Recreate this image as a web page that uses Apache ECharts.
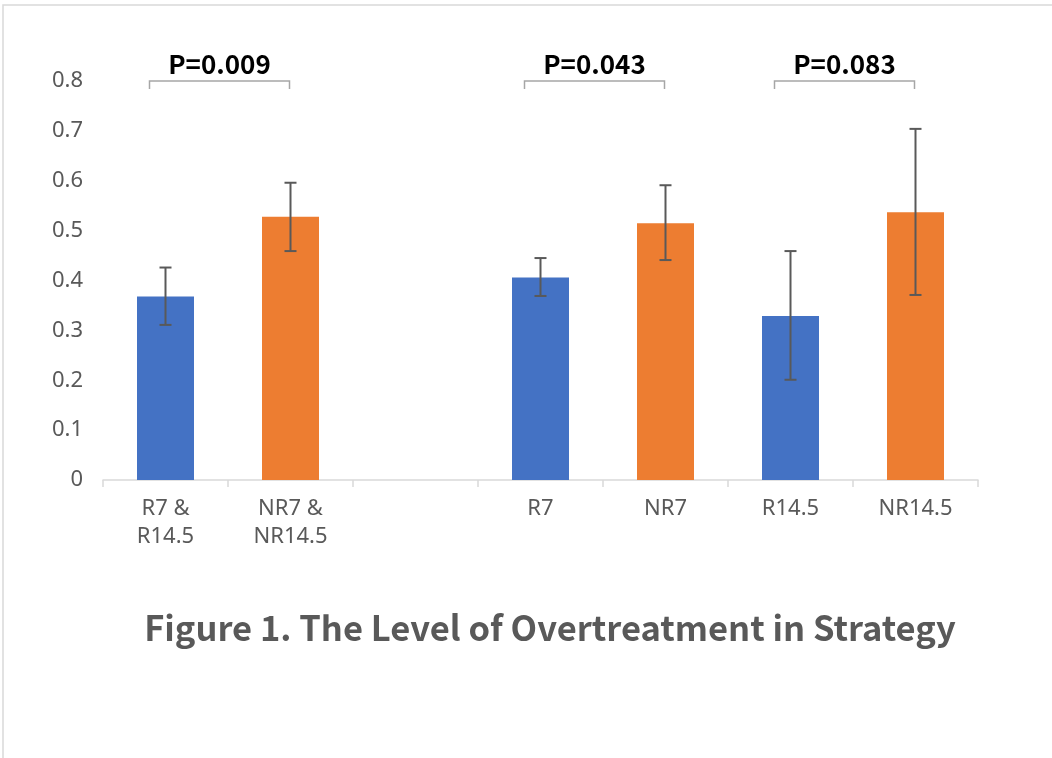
<!DOCTYPE html>
<html>
<head>
<meta charset="utf-8">
<script src="https://cdn.jsdelivr.net/npm/echarts@6/dist/echarts.min.js"></script>
<style>
  html, body { margin: 0; padding: 0; background: #fff; }
  #chart { width: 1052px; height: 758px; }
</style>
</head>
<body>
<div id="chart"></div>
<script>
// Groups on the x axis (the empty slot separates pooled from per-threshold groups)
const categories = ['R7 & R14.5', 'NR7 & NR14.5', '', 'R7', 'NR7', 'R14.5', 'NR14.5'];
// Mean level of overtreatment per group
const means = [0.368, 0.528, null, 0.406, 0.515, 0.329, 0.537];
// Error bar bounds
const errLow = [0.311, 0.459, null, 0.369, 0.441, 0.201, 0.371];
const errHigh = [0.426, 0.596, null, 0.445, 0.591, 0.459, 0.704];
// Group kind: 'R' (blue) or 'NR' (orange)
const kinds = ['R', 'NR', null, 'R', 'NR', 'R', 'NR'];
// Significance brackets: pairs of category indices, bracket level, p-value text
const bracketFrom = [0, 3, 5];
const bracketTo = [1, 4, 6];
const bracketLevel = [0.8, 0.8, 0.8];
const pLabels = ['P=0.009', 'P=0.043', 'P=0.083'];
// Y axis ticks
const yMin = 0, yMax = 0.8, yStep = 0.1;

const COLORS = { R: '#4472C4', NR: '#ED7D31' };
const FONT = '"Noto Sans CJK SC", "Noto Sans", sans-serif';
const LABEL_FONT = '"Noto Sans", "Open Sans", sans-serif';

const chart = echarts.init(document.getElementById('chart'));

const barData = means.map((v, i) => v == null ? '-' : {
  value: v,
  itemStyle: { color: COLORS[kinds[i]] }
});

const errData = means.map((v, i) => v == null ? null : [i, errLow[i], errHigh[i]]).filter(Boolean);

const bracketData = bracketFrom.map((a, k) => [a, bracketTo[k], bracketLevel[k], k]);

chart.setOption({
  animation: false,
  backgroundColor: '#ffffff',
  title: {
    text: 'Figure 1. The Level of Overtreatment in Strategy',
    left: 545,
    textAlign: 'center',
    top: 606,
    textStyle: { fontFamily: FONT, fontSize: 34.5, fontWeight: 'bold', color: '#595959' }
  },
  graphic: [{
    type: 'rect',
    shape: { x: 3, y: 5, width: 1100, height: 800 },
    style: { fill: 'none', stroke: '#d9d9d9', lineWidth: 1.5 },
    silent: true
  }],
  grid: { left: 103, right: 74, top: 81, bottom: 278 },
  xAxis: {
    type: 'category',
    data: categories,
    axisLine: { lineStyle: { color: '#d9d9d9', width: 1.5 } },
    axisTick: { show: true, length: 7, lineStyle: { color: '#d9d9d9', width: 1.5 } },
    axisLabel: {
      interval: 0,
      margin: 15,
      color: '#595959',
      fontFamily: LABEL_FONT,
      fontSize: 22,
      lineHeight: 28,
      formatter: (s) => s.replace(' & ', ' &\n')
    }
  },
  yAxis: {
    type: 'value',
    min: yMin,
    max: yMax,
    interval: yStep,
    axisLine: { show: false },
    axisTick: { show: false },
    splitLine: { show: false },
    axisLabel: {
      margin: 20,
      color: '#595959',
      fontFamily: LABEL_FONT,
      fontSize: 22,
      formatter: (v) => String(Math.round(v * 10) / 10)
    }
  },
  series: [
    {
      type: 'bar',
      data: barData,
      barWidth: 57,
      z: 2
    },
    {
      // Error bars with caps
      type: 'custom',
      data: errData,
      z: 3,
      renderItem: (params, api) => {
        const x = api.value(0);
        const lo = api.coord([x, api.value(1)]);
        const hi = api.coord([x, api.value(2)]);
        const cap = 6;
        const style = { stroke: '#595959', lineWidth: 2 };
        return {
          type: 'group',
          children: [
            { type: 'line', shape: { x1: lo[0], y1: lo[1], x2: hi[0], y2: hi[1] }, style },
            { type: 'line', shape: { x1: hi[0] - cap, y1: hi[1], x2: hi[0] + cap, y2: hi[1] }, style },
            { type: 'line', shape: { x1: lo[0] - cap, y1: lo[1], x2: lo[0] + cap, y2: lo[1] }, style }
          ]
        };
      }
    },
    {
      // Significance brackets with p-values
      type: 'custom',
      data: bracketData,
      clip: false,
      z: 4,
      renderItem: (params, api) => {
        const a = api.coord([api.value(0), api.value(2)]);
        const b = api.coord([api.value(1), api.value(2)]);
        const x1 = a[0] - 16, x2 = b[0] - 1, y = a[1];
        const drop = 8;
        const style = { stroke: '#a6a6a6', lineWidth: 1.5, fill: 'none' };
        return {
          type: 'group',
          children: [
            { type: 'polyline', shape: { points: [[x1, y + drop], [x1, y], [x2, y], [x2, y + drop]] }, style },
            {
              type: 'text',
              x: (x1 + x2) / 2,
              y: y - 4,
              style: {
                text: pLabels[api.value(3)],
                fill: '#000000',
                font: 'bold 26px ' + FONT,
                align: 'center',
                verticalAlign: 'bottom'
              }
            }
          ]
        };
      }
    }
  ]
});
</script>
</body>
</html>
